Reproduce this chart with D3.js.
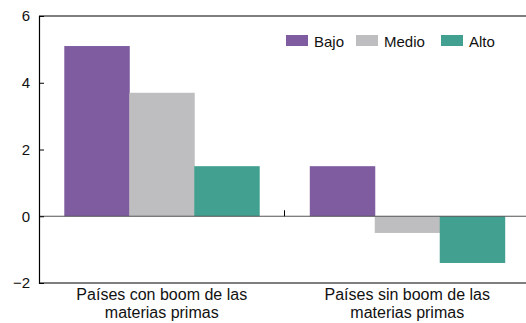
<!DOCTYPE html>
<html><head><meta charset="utf-8">
<script src="https://cdn.jsdelivr.net/npm/d3@7"></script>
<style>body{margin:0;background:#fff}svg{display:block;font-family:"Liberation Sans",Arial,sans-serif}</style>
</head><body><svg id="c" width="526" height="323"></svg>
<script>
const categories = [["Países con boom de las","materias primas"],["Países sin boom de las","materias primas"]];
const series = ["Bajo","Medio","Alto"];
const bajo = [5.1, 1.5];
const medio = [3.7, -0.5];
const alto = [1.5, -1.4];
const colors = ["#7E5C9F","#BEBEC0","#41A08F"];
const yTicks = [-2,0,2,4,6];

const svg = d3.select("#c");
const L=39, R=530, T=16, B=283;
const y = d3.scaleLinear().domain([-2,6]).range([B,T]);
const x0 = d3.scaleBand().domain([0,1]).range([L,R]).paddingInner(0.206).paddingOuter(0.103);
const x1 = d3.scaleBand().domain(series).range([0,x0.bandwidth()]);
const data = [bajo, medio, alto];

series.forEach((s,si)=>{
  svg.append("g").selectAll("rect").data(data[si]).enter().append("rect")
    .attr("x",(d,i)=>x0(i)+x1(s))
    .attr("width",x1.bandwidth()+0.5)
    .attr("y",d=>y(Math.max(0,d)))
    .attr("height",d=>Math.abs(y(d)-y(0)))
    .attr("fill",colors[si]);
});

svg.append("line").attr("x1",L).attr("x2",526).attr("y1",y(0)).attr("y2",y(0)).attr("stroke","#555").attr("stroke-width",1.2);
svg.append("line").attr("x1",L).attr("x2",526).attr("y1",T).attr("y2",T).attr("stroke","#000").attr("stroke-width",1.2);
svg.append("line").attr("x1",L).attr("x2",526).attr("y1",B).attr("y2",B).attr("stroke","#000").attr("stroke-width",1.2);
const ya = svg.append("g").attr("transform",`translate(${L},0)`).call(d3.axisRight(y).tickValues(yTicks).tickSize(5).tickFormat(d=>d<0?"\u2212"+Math.abs(d):d));
ya.select(".domain").attr("stroke","#000").attr("stroke-width",1.2);
ya.selectAll(".tick line").attr("stroke","#000");
ya.selectAll(".tick text").attr("x",-9).attr("text-anchor","end").attr("font-size",15).attr("fill","#111").attr("font-family","Liberation Sans, Arial, sans-serif");

svg.append("line").attr("x1",(x0(0)+x0.bandwidth()+x0(1))/2).attr("x2",(x0(0)+x0.bandwidth()+x0(1))/2)
  .attr("y1",y(0)-6).attr("y2",y(0)).attr("stroke","#000");

categories.forEach((c,i)=>{
  const t = svg.append("text").attr("text-anchor","middle").attr("font-size",16).attr("fill","#111");
  c.forEach((ln,j)=>t.append("tspan").attr("x",x0(i)+x0.bandwidth()/2).attr("y",300+j*18).text(ln));
});

const lx=[286,356,441];
series.forEach((s,i)=>{
  svg.append("rect").attr("x",lx[i]).attr("y",35).attr("width",22).attr("height",11).attr("fill",colors[i]);
  svg.append("text").attr("x",lx[i]+28).attr("y",46.5).attr("font-size",15).attr("fill","#111").text(s);
});
</script></body></html>
